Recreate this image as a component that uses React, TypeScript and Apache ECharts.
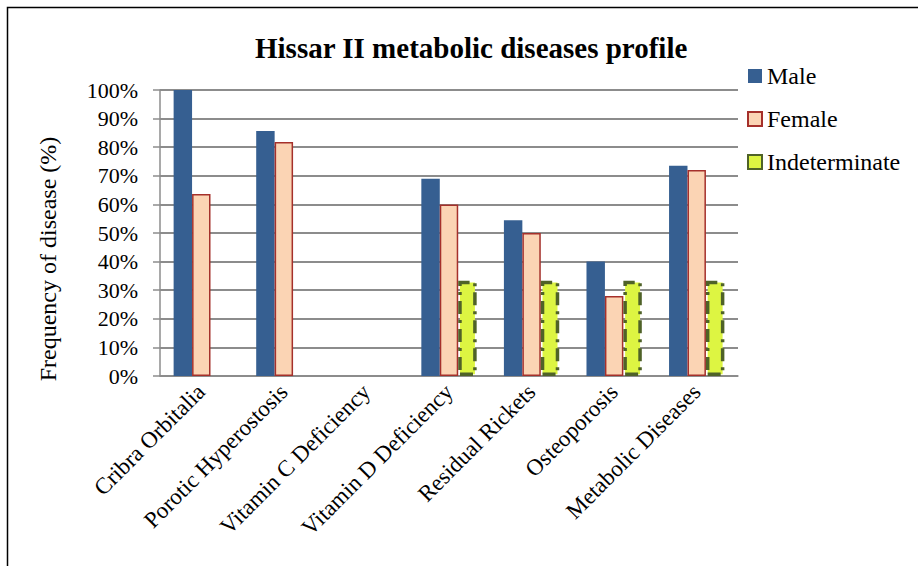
import React, { useEffect, useRef } from "react";
import * as echarts from "echarts";

const categories = [
  "Cribra Orbitalia",
  "Porotic Hyperostosis",
  "Vitamin C Deficiency",
  "Vitamin D Deficiency",
  "Residual Rickets",
  "Osteoporosis",
  "Metabolic Diseases",
];
const maleValues = [100, 85.7, 0, 69.0, 54.5, 40.0, 73.5];
const femaleValues = [63.6, 81.8, 0, 60.0, 50.0, 28.0, 72.0];
const indeterminateValues = [0, 0, 0, 33.3, 33.3, 33.3, 33.3];
const yTicks = [0, 10, 20, 30, 40, 50, 60, 70, 80, 90, 100];

const FONT = "Liberation Serif";

export default function App() {
  const ref = useRef<HTMLDivElement>(null);
  useEffect(() => {
    if (!ref.current) return;
    const chart = echarts.init(ref.current, undefined, { renderer: "svg" });
    const hideZero = (arr: number[]) => arr.map((v) => (v === 0 ? null : v));
    chart.setOption({
      animation: false,
      backgroundColor: "#ffffff",
      textStyle: { fontFamily: FONT, color: "#000" },
      title: {
        text: "Hissar II metabolic diseases profile",
        left: 250,
        top: 28,
        textStyle: { fontFamily: FONT, fontSize: 29, fontWeight: "bold", color: "#000" },
      },
      legend: {
        orient: "vertical",
        left: 742,
        top: 59,
        itemWidth: 14,
        itemHeight: 14,
        itemGap: 19,
        icon: "rect",
        textStyle: { fontFamily: FONT, fontSize: 24, color: "#000" },
        data: ["Male", "Female", "Indeterminate"],
      },
      grid: { left: 160, right: 180, top: 90, bottom: 190, containLabel: false },
      xAxis: {
        type: "category",
        data: categories,
        axisLine: { show: true, lineStyle: { color: "#8c8c8c", width: 1.5 } },
        axisTick: { show: false },
        axisLabel: {
          rotate: 45,
          interval: 0,
          margin: 12,
          fontFamily: FONT,
          fontSize: 23,
          color: "#000",
        },
      },
      yAxis: {
        type: "value",
        min: 0,
        max: 100,
        interval: 10,
        name: "Frequency of disease (%)",
        nameLocation: "middle",
        nameGap: 100,
        nameTextStyle: {
          fontFamily: FONT,
          fontSize: 24,
          color: "#000",
          padding: [0, 0, 0, -52],
        },
        axisLine: { show: true, lineStyle: { color: "#8c8c8c", width: 1.5 } },
        axisTick: { show: true, length: 7, lineStyle: { color: "#8c8c8c", width: 1.5 } },
        axisLabel: {
          margin: 22,
          fontFamily: FONT,
          fontSize: 22,
          color: "#000",
          formatter: (v: number) => (yTicks.includes(v) ? v + "%" : ""),
        },
        splitLine: { show: true, lineStyle: { color: "#8c8c8c", width: 1.8 } },
      },
      series: [
        {
          name: "Male",
          type: "bar",
          data: hideZero(maleValues),
          barGap: "0%",
          barCategoryGap: "33%",
          itemStyle: { color: "#365F91" },
        },
        {
          name: "Female",
          type: "bar",
          data: hideZero(femaleValues),
          barGap: "0%",
          barCategoryGap: "33%",
          itemStyle: { color: "#FBD4B4", borderColor: "#A5302B", borderWidth: 1.5 },
        },
        {
          name: "Indeterminate",
          type: "bar",
          data: hideZero(indeterminateValues),
          barGap: "0%",
          barCategoryGap: "33%",
          itemStyle: {
            color: "#DDF542",
            borderColor: "#4F6228",
            borderWidth: 3.5,
            borderType: [13, 6, 3, 6],
          },
        },
      ],
      graphic: [
        {
          type: "rect",
          shape: { x: 7.5, y: 7.5, width: 1000, height: 1000 },
          style: { fill: "none", stroke: "#000", lineWidth: 1.5 },
          silent: true,
        },
      ],
    });
    return () => chart.dispose();
  }, []);
  return (
    <div
      ref={ref}
      style={{ position: "absolute", left: 0, top: 0, width: 918, height: 566, background: "#fff" }}
    />
  );
}
